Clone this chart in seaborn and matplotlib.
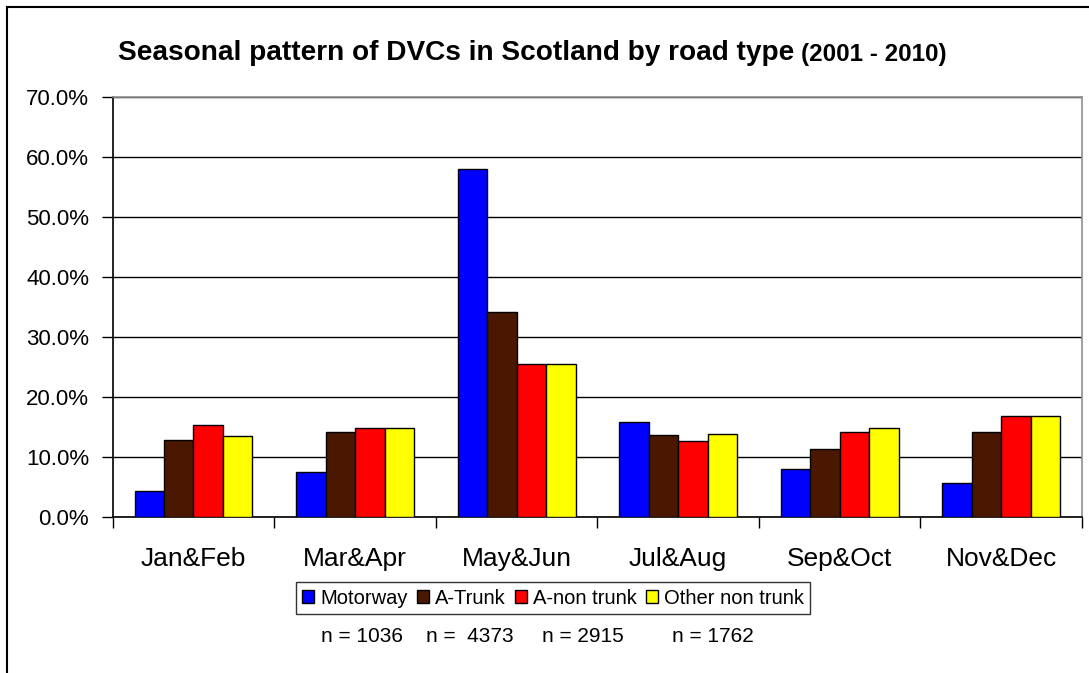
import matplotlib
matplotlib.use("Agg")
import matplotlib.pyplot as plt
import matplotlib.patches as mpatches
from matplotlib.ticker import FuncFormatter, FixedLocator
import seaborn as sns
import pandas as pd

periods = ["Jan&Feb", "Mar&Apr", "May&Jun", "Jul&Aug", "Sep&Oct", "Nov&Dec"]
road_types = ["Motorway", "A-Trunk", "A-non trunk", "Other non trunk"]
motorway = [4.3, 7.5, 57.9, 15.8, 8.0, 5.7]
a_trunk = [12.8, 14.1, 34.2, 13.6, 11.3, 14.1]
a_non_trunk = [15.3, 14.8, 25.4, 12.7, 14.1, 16.8]
other_non_trunk = [13.4, 14.8, 25.4, 13.8, 14.8, 16.8]
n_labels = ["n = 1036", "n =  4373", "n = 2915", "n = 1762"]
colors = ["#0000FF", "#4A1800", "#FF0000", "#FFFF00"]

rows = []
for rt, vals in zip(road_types, [motorway, a_trunk, a_non_trunk, other_non_trunk]):
    for p, v in zip(periods, vals):
        rows.append({"period": p, "road": rt, "value": v})
df = pd.DataFrame(rows)

sns.set_theme(style="white")
plt.rcParams["font.family"] = ["Liberation Sans", "DejaVu Sans"]
plt.rcParams["text.color"] = "black"
plt.rcParams["xtick.color"] = "black"
plt.rcParams["ytick.color"] = "black"
plt.rcParams["xtick.labelcolor"] = "black"
plt.rcParams["ytick.labelcolor"] = "black"

W, H = 1089, 673
fig = plt.figure(figsize=(W / 100, H / 100), dpi=100)
ax = fig.add_axes([112.7 / W, 1 - 516.7 / H, (1082 - 112.7) / W, (516.7 - 96.7) / H])

sns.barplot(data=df, x="period", y="value", hue="road", order=periods,
            hue_order=road_types, palette=colors, width=0.73,
            edgecolor="black", linewidth=1.0, saturation=1, ax=ax, legend=False,
            zorder=3)

ax.set_ylim(0, 70)
ax.set_xlim(-0.5, 5.5)
ax.yaxis.set_major_locator(FixedLocator([0, 10, 20, 30, 40, 50, 60, 70]))
ax.yaxis.set_major_formatter(FuncFormatter(lambda v, _: f"{v:.1f}%"))
ax.grid(axis="y", color="black", linewidth=1.0, zorder=0)
ax.set_axisbelow(True)
ax.set_xlabel("")
ax.set_ylabel("")

ax.set_xticks(range(len(periods)))
ax.set_xticklabels(periods)
ax.set_xticks([i - 0.5 for i in range(len(periods) + 1)], minor=True)
ax.tick_params(axis="x", which="major", length=0, pad=22, labelsize=19, colors="black")
ax.tick_params(axis="x", which="minor", length=8, width=1, direction="out", color="black", bottom=True)
ax.tick_params(axis="y", length=8, width=1, direction="out", pad=9, labelsize=16, colors="black", left=True)

for s in ["left", "bottom"]:
    ax.spines[s].set_color("black")
    ax.spines[s].set_linewidth(1.2)
for s in ["top", "right"]:
    ax.spines[s].set_color("#909090")
    ax.spines[s].set_linewidth(1.2)
    ax.spines[s].set_visible(True)

# figure border
fig.patches.append(mpatches.Rectangle((7 / W, -0.1), 1.2, 1 - 7 / H + 0.1, transform=fig.transFigure,
                                      fill=False, edgecolor="black", linewidth=1.5))

# title in two parts
t1 = fig.text(118 / W, 1 - 53 / H, "Seasonal pattern of DVCs in Scotland by road type",
              fontsize=20.2, fontweight="bold", ha="left", va="center", color="black")
fig.canvas.draw()
bb = t1.get_window_extent()
fig.text((bb.x1 + 7) / W, 1 - 54 / H, "(2001 - 2010)", fontsize=17.5, fontweight="bold",
         ha="left", va="center", color="black")

# legend
handles = [mpatches.Patch(facecolor=c, edgecolor="black", linewidth=1.0) for c in colors]
leg = fig.legend(handles, road_types, loc="center", bbox_to_anchor=(553 / W, 1 - 598 / H),
                 ncol=4, fontsize=14.5, frameon=True, handlelength=0.6, handleheight=0.6,
                 handletextpad=0.3, columnspacing=0.45, borderpad=0.3, fancybox=False,
                 borderaxespad=0, labelcolor="black")
leg.get_frame().set_edgecolor("black")
leg.get_frame().set_linewidth(1.0)

for lbl, xc in zip(n_labels, [361.7, 470, 582.7, 712.7]):
    fig.text(xc / W, 1 - 637 / H, lbl, fontsize=15, ha="center", va="center", color="black")

fig.savefig("out.png", dpi=100, facecolor="white")
